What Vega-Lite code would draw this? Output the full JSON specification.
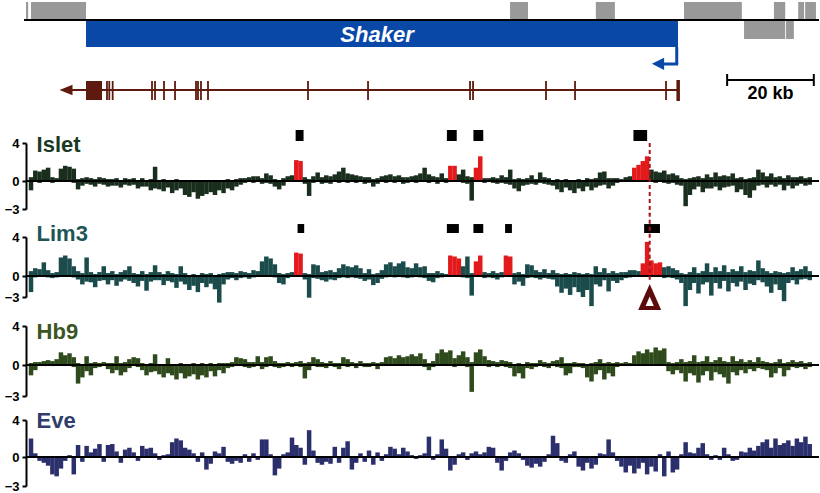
{
"$schema": "https://vega.github.io/schema/vega-lite/v6.json",
"autosize": {"type": "pad"},
"padding": {"left": 0, "top": 0, "right": 2, "bottom": 0},
"spacing": 0,
"bounds": "flush",
"background": "white",
"config": {"view": {"stroke": null}, "font": "Liberation Sans",
 "axisY": {"grid": false, "domainColor": "black", "domainWidth": 2, "tickColor": "black", "tickWidth": 2, "tickSize": 4, "labelPadding": 3, "labelFont": "Liberation Sans", "labelFontSize": 13, "labelFontWeight": "bold", "labelColor": "black"}},
"datasets": {
"islet": [{"x":0,"a":0.4,"b":-1.0},{"x":1,"a":1.1,"b":-0.1},{"x":2,"a":1.0,"b":-0.2},{"x":3,"a":1.2,"b":0},{"x":4,"a":1.4,"b":-0.1},{"x":5,"a":0.4,"b":-0.2},{"x":6,"a":0.3,"b":-0.1},{"x":7,"a":1.3,"b":0},{"x":8,"a":1.6,"b":0},{"x":9,"a":1.5,"b":-0.1},{"x":10,"a":1.3,"b":-0.2},{"x":11,"a":0.2,"b":-0.9},{"x":12,"a":0.3,"b":-0.5},{"x":13,"a":0.4,"b":-0.3},{"x":14,"a":0.3,"b":-0.4},{"x":15,"a":0.2,"b":-0.6},{"x":16,"a":0.4,"b":-0.3},{"x":17,"a":0.3,"b":-0.4},{"x":18,"a":0.2,"b":-0.6},{"x":19,"a":0.2,"b":-0.5},{"x":20,"a":0.3,"b":-0.5},{"x":21,"a":0.1,"b":-0.7},{"x":22,"a":0.3,"b":-0.4},{"x":23,"a":0.2,"b":-0.5},{"x":24,"a":0.3,"b":-0.4},{"x":25,"a":0.1,"b":-0.8},{"x":26,"a":0.3,"b":-0.6},{"x":27,"a":0.1,"b":-0.6},{"x":28,"a":0.2,"b":-1.0},{"x":29,"a":1.5,"b":-0.8},{"x":30,"a":0.1,"b":-0.9},{"x":31,"a":0.2,"b":-1.1},{"x":32,"a":0.1,"b":-0.7},{"x":33,"a":0.1,"b":-1.3},{"x":34,"a":0.2,"b":-1.0},{"x":35,"a":0.1,"b":-0.8},{"x":36,"a":0.0,"b":-1.5},{"x":37,"a":0.1,"b":-1.7},{"x":38,"a":0.1,"b":-1.2},{"x":39,"a":0.0,"b":-1.9},{"x":40,"a":0.1,"b":-1.6},{"x":41,"a":0.0,"b":-1.4},{"x":42,"a":0.1,"b":-1.2},{"x":43,"a":0.0,"b":-1.5},{"x":44,"a":0.1,"b":-1.0},{"x":45,"a":0.1,"b":-1.3},{"x":46,"a":0.2,"b":-0.8},{"x":47,"a":0.1,"b":-1.0},{"x":48,"a":0.2,"b":-0.6},{"x":49,"a":0.3,"b":-0.4},{"x":50,"a":0.3,"b":-0.2},{"x":51,"a":0.4,"b":-0.1},{"x":52,"a":0.5,"b":-0.2},{"x":53,"a":0.5,"b":-0.1},{"x":54,"a":0.3,"b":-0.3},{"x":55,"a":0.8,"b":-0.2},{"x":56,"a":0.6,"b":-0.3},{"x":57,"a":0.2,"b":-0.6},{"x":58,"a":0.1,"b":-0.9},{"x":59,"a":0.3,"b":-0.5},{"x":60,"a":0.5,"b":-0.1},{"x":61,"a":0.6,"b":0},{"x":62,"a":2.2,"b":0,"h":1},{"x":63,"a":2.1,"b":0,"h":1},{"x":64,"a":0.4,"b":-0.3},{"x":65,"a":0.2,"b":-1.6},{"x":66,"a":0.5,"b":-0.2},{"x":67,"a":0.9,"b":-0.1},{"x":68,"a":0.4,"b":-0.3},{"x":69,"a":0.6,"b":-0.2},{"x":70,"a":0.5,"b":-0.3},{"x":71,"a":0.7,"b":-0.1},{"x":72,"a":1.0,"b":-0.2},{"x":73,"a":1.4,"b":-0.1},{"x":74,"a":0.8,"b":-0.2},{"x":75,"a":0.7,"b":-0.1},{"x":76,"a":0.6,"b":-0.2},{"x":77,"a":0.5,"b":-0.1},{"x":78,"a":0.4,"b":-0.3},{"x":79,"a":0.4,"b":-0.2},{"x":80,"a":0.2,"b":-0.6},{"x":81,"a":0.3,"b":-0.3},{"x":82,"a":0.5,"b":-0.1},{"x":83,"a":0.6,"b":-0.2},{"x":84,"a":0.7,"b":-0.1},{"x":85,"a":0.5,"b":-0.2},{"x":86,"a":0.6,"b":-0.1},{"x":87,"a":0.4,"b":-0.3},{"x":88,"a":0.4,"b":-0.2},{"x":89,"a":0.5,"b":-0.1},{"x":90,"a":0.6,"b":-0.2},{"x":91,"a":0.8,"b":-0.1},{"x":92,"a":1.4,"b":-0.1},{"x":93,"a":0.7,"b":-0.2},{"x":94,"a":0.5,"b":-0.1},{"x":95,"a":0.4,"b":-0.3},{"x":96,"a":0.8,"b":-0.1},{"x":97,"a":0.3,"b":-0.2},{"x":98,"a":1.6,"b":0,"h":1},{"x":99,"a":1.6,"b":0,"h":1},{"x":100,"a":0.7,"b":-0.1},{"x":101,"a":1.2,"b":-0.2},{"x":102,"a":0.5,"b":-0.3},{"x":103,"a":0.4,"b":-2.1},{"x":104,"a":1.4,"b":0,"h":1},{"x":105,"a":2.6,"b":0,"h":1},{"x":106,"a":0.3,"b":-0.2},{"x":107,"a":0.3,"b":-0.1},{"x":108,"a":0.4,"b":-0.2},{"x":109,"a":0.3,"b":-0.3},{"x":110,"a":0.6,"b":-0.2},{"x":111,"a":0.4,"b":-0.3},{"x":112,"a":1.2,"b":-0.4},{"x":113,"a":0.2,"b":-0.8},{"x":114,"a":0.3,"b":-1.1},{"x":115,"a":0.2,"b":-0.5},{"x":116,"a":0.3,"b":-0.4},{"x":117,"a":0.6,"b":-0.3},{"x":118,"a":0.2,"b":-0.4},{"x":119,"a":0.9,"b":-0.2},{"x":120,"a":0.4,"b":-0.3},{"x":121,"a":0.3,"b":-0.4},{"x":122,"a":0.1,"b":-0.5},{"x":123,"a":0.2,"b":-0.9},{"x":124,"a":0.1,"b":-1.2},{"x":125,"a":0.2,"b":-0.7},{"x":126,"a":0.1,"b":-1.0},{"x":127,"a":0.1,"b":-1.3},{"x":128,"a":0.2,"b":-0.8},{"x":129,"a":0.1,"b":-1.1},{"x":130,"a":0.3,"b":-0.6},{"x":131,"a":0.2,"b":-1.0},{"x":132,"a":0.3,"b":-0.7},{"x":133,"a":0.9,"b":-0.5},{"x":134,"a":1.0,"b":-0.4},{"x":135,"a":0.3,"b":-0.8},{"x":136,"a":0.3,"b":-0.5},{"x":137,"a":0.3,"b":-0.2},{"x":138,"a":0.2,"b":-0.1},{"x":139,"a":0.4,"b":-0.1},{"x":140,"a":0.5,"b":0},{"x":141,"a":1.4,"b":0,"h":1},{"x":142,"a":1.7,"b":0,"h":1},{"x":143,"a":2.1,"b":0,"h":1},{"x":144,"a":2.6,"b":0,"h":1},{"x":145,"a":1.2,"b":-0.1},{"x":146,"a":1.0,"b":-0.2},{"x":147,"a":0.9,"b":-0.1},{"x":148,"a":1.1,"b":-0.2},{"x":149,"a":0.7,"b":-0.3},{"x":150,"a":0.8,"b":-0.2},{"x":151,"a":0.6,"b":-0.4},{"x":152,"a":0.3,"b":-0.5},{"x":153,"a":0.2,"b":-2.7},{"x":154,"a":0.3,"b":-1.5},{"x":155,"a":0.4,"b":-0.9},{"x":156,"a":0.5,"b":-0.6},{"x":157,"a":0.3,"b":-1.2},{"x":158,"a":0.7,"b":-0.8},{"x":159,"a":0.4,"b":-0.8},{"x":160,"a":0.9,"b":-0.6},{"x":161,"a":0.5,"b":-1.0},{"x":162,"a":0.6,"b":-0.7},{"x":163,"a":0.5,"b":-0.6},{"x":164,"a":0.8,"b":-0.5},{"x":165,"a":0.3,"b":-1.2},{"x":166,"a":0.4,"b":-0.9},{"x":167,"a":0.2,"b":-1.5},{"x":168,"a":0.3,"b":-1.8},{"x":169,"a":0.4,"b":-1.0},{"x":170,"a":1.2,"b":-0.5},{"x":171,"a":0.9,"b":-0.4},{"x":172,"a":0.5,"b":-0.7},{"x":173,"a":0.8,"b":-0.4},{"x":174,"a":0.4,"b":-0.6},{"x":175,"a":0.5,"b":-0.4},{"x":176,"a":0.3,"b":-1.0},{"x":177,"a":0.6,"b":-0.5},{"x":178,"a":0.4,"b":-0.8},{"x":179,"a":0.4,"b":-0.5},{"x":180,"a":0.5,"b":-0.3},{"x":181,"a":0.3,"b":-0.5},{"x":182,"a":0.4,"b":-0.4}],
"lim3": [{"x":0,"a":0.5,"b":-2.3},{"x":1,"a":0.8,"b":-0.2},{"x":2,"a":0.7,"b":-0.1},{"x":3,"a":1.4,"b":-0.1},{"x":4,"a":0.6,"b":-0.2},{"x":5,"a":0.3,"b":-0.3},{"x":6,"a":0.4,"b":-0.2},{"x":7,"a":1.9,"b":0},{"x":8,"a":2.1,"b":0},{"x":9,"a":1.8,"b":-0.1},{"x":10,"a":1.0,"b":-0.2},{"x":11,"a":0.5,"b":-0.5},{"x":12,"a":0.3,"b":-1.2},{"x":13,"a":1.9,"b":-0.8},{"x":14,"a":0.4,"b":-0.9},{"x":15,"a":0.2,"b":-1.6},{"x":16,"a":0.4,"b":-0.7},{"x":17,"a":1.0,"b":-0.6},{"x":18,"a":0.3,"b":-1.2},{"x":19,"a":0.5,"b":-0.6},{"x":20,"a":0.2,"b":-1.4},{"x":21,"a":0.4,"b":-0.8},{"x":22,"a":0.6,"b":-0.5},{"x":23,"a":1.0,"b":-0.7},{"x":24,"a":0.3,"b":-1.0},{"x":25,"a":0.2,"b":-1.5},{"x":26,"a":0.5,"b":-0.7},{"x":27,"a":0.2,"b":-2.1},{"x":28,"a":0.4,"b":-0.8},{"x":29,"a":1.1,"b":-0.6},{"x":30,"a":0.4,"b":-0.6},{"x":31,"a":0.2,"b":-1.3},{"x":32,"a":0.5,"b":-0.7},{"x":33,"a":0.3,"b":-0.9},{"x":34,"a":0.2,"b":-1.7},{"x":35,"a":1.0,"b":-0.8},{"x":36,"a":0.3,"b":-1.2},{"x":37,"a":0.1,"b":-2.0},{"x":38,"a":0.2,"b":-1.4},{"x":39,"a":0.1,"b":-2.3},{"x":40,"a":0.3,"b":-1.0},{"x":41,"a":0.2,"b":-1.6},{"x":42,"a":0.3,"b":-1.1},{"x":43,"a":0.1,"b":-1.9},{"x":44,"a":0.2,"b":-3.8},{"x":45,"a":0.3,"b":-1.2},{"x":46,"a":0.4,"b":-0.5},{"x":47,"a":0.4,"b":-0.3},{"x":48,"a":0.3,"b":-0.6},{"x":49,"a":0.5,"b":-0.3},{"x":50,"a":0.4,"b":-0.2},{"x":51,"a":0.3,"b":-0.4},{"x":52,"a":0.6,"b":-0.2},{"x":53,"a":0.5,"b":-0.1},{"x":54,"a":1.5,"b":0},{"x":55,"a":2.0,"b":0},{"x":56,"a":1.8,"b":-0.1},{"x":57,"a":1.2,"b":-0.2},{"x":58,"a":0.3,"b":-1.0},{"x":59,"a":0.2,"b":-1.2},{"x":60,"a":0.3,"b":-0.3},{"x":61,"a":0.4,"b":-0.1},{"x":62,"a":2.4,"b":0,"h":1},{"x":63,"a":2.3,"b":0,"h":1},{"x":64,"a":0.3,"b":-0.5},{"x":65,"a":0.2,"b":-3.1},{"x":66,"a":1.2,"b":-0.3},{"x":67,"a":1.1,"b":-0.4},{"x":68,"a":0.4,"b":-0.6},{"x":69,"a":0.5,"b":-0.8},{"x":70,"a":0.6,"b":-0.5},{"x":71,"a":0.4,"b":-0.6},{"x":72,"a":0.8,"b":-0.3},{"x":73,"a":1.2,"b":-0.2},{"x":74,"a":1.0,"b":-0.3},{"x":75,"a":0.9,"b":-0.2},{"x":76,"a":1.1,"b":-0.3},{"x":77,"a":0.8,"b":-0.4},{"x":78,"a":0.3,"b":-0.7},{"x":79,"a":0.7,"b":-0.5},{"x":80,"a":0.2,"b":-1.3},{"x":81,"a":0.3,"b":-1.0},{"x":82,"a":0.6,"b":-0.4},{"x":83,"a":1.2,"b":-0.2},{"x":84,"a":1.4,"b":-0.1},{"x":85,"a":1.0,"b":-0.2},{"x":86,"a":1.3,"b":-0.1},{"x":87,"a":1.5,"b":-0.2},{"x":88,"a":0.9,"b":-0.3},{"x":89,"a":0.8,"b":-0.2},{"x":90,"a":1.3,"b":-0.1},{"x":91,"a":0.9,"b":-0.2},{"x":92,"a":1.0,"b":-0.3},{"x":93,"a":0.3,"b":-0.7},{"x":94,"a":0.3,"b":-0.9},{"x":95,"a":0.5,"b":-0.3},{"x":96,"a":0.3,"b":-0.2},{"x":97,"a":0.2,"b":-0.1},{"x":98,"a":2.1,"b":0,"h":1},{"x":99,"a":2.0,"b":0,"h":1},{"x":100,"a":1.8,"b":0,"h":1},{"x":101,"a":1.0,"b":-0.2},{"x":102,"a":2.0,"b":-0.3},{"x":103,"a":0.3,"b":-2.8},{"x":104,"a":1.5,"b":0,"h":1},{"x":105,"a":2.1,"b":0,"h":1},{"x":106,"a":0.4,"b":-0.3},{"x":107,"a":0.3,"b":-0.2},{"x":108,"a":0.5,"b":-0.3},{"x":109,"a":0.3,"b":-0.5},{"x":110,"a":0.4,"b":-0.2},{"x":111,"a":2.1,"b":0,"h":1},{"x":112,"a":2.0,"b":0,"h":1},{"x":113,"a":0.3,"b":-1.2},{"x":114,"a":0.4,"b":-0.8},{"x":115,"a":0.2,"b":-1.4},{"x":116,"a":1.2,"b":-0.3},{"x":117,"a":1.1,"b":-0.2},{"x":118,"a":0.6,"b":-0.3},{"x":119,"a":0.4,"b":-0.5},{"x":120,"a":0.7,"b":-0.3},{"x":121,"a":0.3,"b":-0.4},{"x":122,"a":0.6,"b":-0.5},{"x":123,"a":0.3,"b":-1.5},{"x":124,"a":0.2,"b":-2.4},{"x":125,"a":0.3,"b":-1.8},{"x":126,"a":0.2,"b":-2.7},{"x":127,"a":0.4,"b":-1.6},{"x":128,"a":0.3,"b":-2.3},{"x":129,"a":0.2,"b":-3.0},{"x":130,"a":0.3,"b":-2.0},{"x":131,"a":0.2,"b":-4.3},{"x":132,"a":1.0,"b":-1.2},{"x":133,"a":0.4,"b":-1.5},{"x":134,"a":0.8,"b":-0.6},{"x":135,"a":0.3,"b":-2.2},{"x":136,"a":0.5,"b":-0.7},{"x":137,"a":0.3,"b":-1.0},{"x":138,"a":0.4,"b":-0.6},{"x":139,"a":0.4,"b":-0.3},{"x":140,"a":0.6,"b":-0.2},{"x":141,"a":0.6,"b":-0.1},{"x":142,"a":0.5,"b":-0.1},{"x":143,"a":1.3,"b":0,"h":1},{"x":144,"a":3.5,"b":0,"h":1},{"x":145,"a":1.6,"b":0,"h":1},{"x":146,"a":1.3,"b":0,"h":1},{"x":147,"a":1.4,"b":0,"h":1},{"x":148,"a":0.9,"b":-0.3},{"x":149,"a":1.0,"b":-0.2},{"x":150,"a":0.8,"b":-0.3},{"x":151,"a":0.6,"b":-0.5},{"x":152,"a":0.3,"b":-1.0},{"x":153,"a":0.2,"b":-4.3},{"x":154,"a":0.4,"b":-2.0},{"x":155,"a":0.9,"b":-1.0},{"x":156,"a":0.3,"b":-2.5},{"x":157,"a":0.5,"b":-1.2},{"x":158,"a":1.3,"b":-0.9},{"x":159,"a":0.4,"b":-2.8},{"x":160,"a":0.9,"b":-1.0},{"x":161,"a":0.5,"b":-1.8},{"x":162,"a":1.1,"b":-0.7},{"x":163,"a":0.4,"b":-2.2},{"x":164,"a":0.7,"b":-1.0},{"x":165,"a":0.5,"b":-1.5},{"x":166,"a":1.0,"b":-0.8},{"x":167,"a":0.4,"b":-2.0},{"x":168,"a":0.6,"b":-1.1},{"x":169,"a":0.5,"b":-1.3},{"x":170,"a":1.6,"b":-0.6},{"x":171,"a":0.8,"b":-0.9},{"x":172,"a":0.5,"b":-1.5},{"x":173,"a":0.3,"b":-2.4},{"x":174,"a":0.5,"b":-1.2},{"x":175,"a":0.4,"b":-2.0},{"x":176,"a":0.3,"b":-3.6},{"x":177,"a":0.4,"b":-1.0},{"x":178,"a":0.9,"b":-0.6},{"x":179,"a":0.5,"b":-1.2},{"x":180,"a":0.7,"b":-0.5},{"x":181,"a":1.0,"b":-0.4},{"x":182,"a":0.5,"b":-0.6}],
"hb9": [{"x":0,"a":0.2,"b":-1.0},{"x":1,"a":0.3,"b":-0.5},{"x":2,"a":0.3,"b":-0.1},{"x":3,"a":0.4,"b":-0.1},{"x":4,"a":0.5,"b":0},{"x":5,"a":0.4,"b":-0.1},{"x":6,"a":0.6,"b":0},{"x":7,"a":1.3,"b":0},{"x":8,"a":1.0,"b":-0.1},{"x":9,"a":1.2,"b":0},{"x":10,"a":0.8,"b":-0.2},{"x":11,"a":0.2,"b":-1.8},{"x":12,"a":0.1,"b":-1.2},{"x":13,"a":0.9,"b":-0.6},{"x":14,"a":0.2,"b":-1.0},{"x":15,"a":0.3,"b":-0.3},{"x":16,"a":0.2,"b":-0.2},{"x":17,"a":0.3,"b":-0.1},{"x":18,"a":0.2,"b":-0.4},{"x":19,"a":0.2,"b":-0.8},{"x":20,"a":0.9,"b":-0.5},{"x":21,"a":0.2,"b":-1.0},{"x":22,"a":0.3,"b":-0.7},{"x":23,"a":0.6,"b":-0.3},{"x":24,"a":0.8,"b":-0.1},{"x":25,"a":0.7,"b":-0.2},{"x":26,"a":0.2,"b":-0.5},{"x":27,"a":0.1,"b":-1.0},{"x":28,"a":0.2,"b":-0.7},{"x":29,"a":1.1,"b":-0.6},{"x":30,"a":0.1,"b":-0.9},{"x":31,"a":0.1,"b":-1.2},{"x":32,"a":0.7,"b":-0.8},{"x":33,"a":0.1,"b":-1.0},{"x":34,"a":0.1,"b":-1.4},{"x":35,"a":0.2,"b":-0.8},{"x":36,"a":0.1,"b":-1.3},{"x":37,"a":0.1,"b":-1.1},{"x":38,"a":0.2,"b":-0.9},{"x":39,"a":0.1,"b":-1.4},{"x":40,"a":0.2,"b":-1.0},{"x":41,"a":0.1,"b":-1.2},{"x":42,"a":0.2,"b":-0.6},{"x":43,"a":0.1,"b":-1.1},{"x":44,"a":0.2,"b":-0.5},{"x":45,"a":0.2,"b":-0.8},{"x":46,"a":0.2,"b":-0.3},{"x":47,"a":0.3,"b":-0.2},{"x":48,"a":0.8,"b":-0.1},{"x":49,"a":0.7,"b":-0.1},{"x":50,"a":0.6,"b":-0.2},{"x":51,"a":0.3,"b":-0.3},{"x":52,"a":0.3,"b":-0.2},{"x":53,"a":0.9,"b":-0.1},{"x":54,"a":0.3,"b":-0.4},{"x":55,"a":0.8,"b":-0.2},{"x":56,"a":0.9,"b":-0.1},{"x":57,"a":0.4,"b":-0.2},{"x":58,"a":0.2,"b":-0.3},{"x":59,"a":0.2,"b":-0.2},{"x":60,"a":0.3,"b":-0.1},{"x":61,"a":0.2,"b":-0.2},{"x":62,"a":0.3,"b":-0.1},{"x":63,"a":0.4,"b":-0.2},{"x":64,"a":0.2,"b":-1.3},{"x":65,"a":0.3,"b":-0.5},{"x":66,"a":0.8,"b":-0.1},{"x":67,"a":0.6,"b":-0.2},{"x":68,"a":0.3,"b":-0.2},{"x":69,"a":0.2,"b":-0.3},{"x":70,"a":0.4,"b":-0.1},{"x":71,"a":0.2,"b":-0.2},{"x":72,"a":0.2,"b":-0.4},{"x":73,"a":0.8,"b":-0.1},{"x":74,"a":0.6,"b":-0.2},{"x":75,"a":0.3,"b":-0.1},{"x":76,"a":0.2,"b":-0.3},{"x":77,"a":0.4,"b":-0.1},{"x":78,"a":0.2,"b":-0.2},{"x":79,"a":0.2,"b":-0.2},{"x":80,"a":0.3,"b":-0.1},{"x":81,"a":0.2,"b":-0.4},{"x":82,"a":0.3,"b":-0.1},{"x":83,"a":0.8,"b":-0.1},{"x":84,"a":0.9,"b":0},{"x":85,"a":0.7,"b":-0.1},{"x":86,"a":1.0,"b":0},{"x":87,"a":0.8,"b":-0.1},{"x":88,"a":0.9,"b":0},{"x":89,"a":1.1,"b":-0.1},{"x":90,"a":0.9,"b":-0.1},{"x":91,"a":1.2,"b":0},{"x":92,"a":0.6,"b":-0.2},{"x":93,"a":0.2,"b":-0.5},{"x":94,"a":0.4,"b":-0.2},{"x":95,"a":1.2,"b":-0.1},{"x":96,"a":1.6,"b":0},{"x":97,"a":1.3,"b":-0.1},{"x":98,"a":1.5,"b":0},{"x":99,"a":0.7,"b":-0.2},{"x":100,"a":1.0,"b":-0.1},{"x":101,"a":1.4,"b":0},{"x":102,"a":0.8,"b":-0.2},{"x":103,"a":0.3,"b":-2.6},{"x":104,"a":1.3,"b":-0.1},{"x":105,"a":1.6,"b":0},{"x":106,"a":0.9,"b":-0.1},{"x":107,"a":0.5,"b":-0.2},{"x":108,"a":0.4,"b":-0.1},{"x":109,"a":0.3,"b":-0.2},{"x":110,"a":0.5,"b":-0.1},{"x":111,"a":0.4,"b":-0.2},{"x":112,"a":0.3,"b":-0.3},{"x":113,"a":0.1,"b":-1.1},{"x":114,"a":0.2,"b":-0.8},{"x":115,"a":0.1,"b":-1.3},{"x":116,"a":0.3,"b":-0.3},{"x":117,"a":0.2,"b":-0.4},{"x":118,"a":0.2,"b":-0.2},{"x":119,"a":0.5,"b":-0.1},{"x":120,"a":0.3,"b":-0.2},{"x":121,"a":0.2,"b":-0.3},{"x":122,"a":0.4,"b":-0.1},{"x":123,"a":0.5,"b":-0.2},{"x":124,"a":0.8,"b":-0.3},{"x":125,"a":0.2,"b":-1.0},{"x":126,"a":0.2,"b":-0.8},{"x":127,"a":0.3,"b":-0.2},{"x":128,"a":0.2,"b":-0.2},{"x":129,"a":0.2,"b":-0.3},{"x":130,"a":0.1,"b":-1.2},{"x":131,"a":0.2,"b":-1.6},{"x":132,"a":0.3,"b":-0.9},{"x":133,"a":0.6,"b":-0.5},{"x":134,"a":0.2,"b":-1.4},{"x":135,"a":0.3,"b":-0.8},{"x":136,"a":0.2,"b":-1.1},{"x":137,"a":0.3,"b":-0.2},{"x":138,"a":0.2,"b":-0.1},{"x":139,"a":0.3,"b":-0.1},{"x":140,"a":0.2,"b":-0.1},{"x":141,"a":1.0,"b":0},{"x":142,"a":1.4,"b":0},{"x":143,"a":1.2,"b":-0.1},{"x":144,"a":1.6,"b":0},{"x":145,"a":1.3,"b":0},{"x":146,"a":1.8,"b":0},{"x":147,"a":1.5,"b":-0.1},{"x":148,"a":1.7,"b":0},{"x":149,"a":0.3,"b":-0.6},{"x":150,"a":0.2,"b":-0.9},{"x":151,"a":0.3,"b":-0.5},{"x":152,"a":0.6,"b":-0.8},{"x":153,"a":0.3,"b":-1.6},{"x":154,"a":0.4,"b":-0.8},{"x":155,"a":1.0,"b":-1.0},{"x":156,"a":0.3,"b":-1.7},{"x":157,"a":0.4,"b":-1.0},{"x":158,"a":0.9,"b":-0.6},{"x":159,"a":0.3,"b":-1.5},{"x":160,"a":0.5,"b":-0.7},{"x":161,"a":0.8,"b":-0.9},{"x":162,"a":0.4,"b":-1.2},{"x":163,"a":0.3,"b":-1.8},{"x":164,"a":0.9,"b":-0.7},{"x":165,"a":0.4,"b":-1.0},{"x":166,"a":0.6,"b":-0.5},{"x":167,"a":0.3,"b":-0.8},{"x":168,"a":0.5,"b":-0.4},{"x":169,"a":0.3,"b":-0.6},{"x":170,"a":0.8,"b":-0.3},{"x":171,"a":0.4,"b":-0.4},{"x":172,"a":0.3,"b":-0.5},{"x":173,"a":0.2,"b":-1.2},{"x":174,"a":0.3,"b":-0.8},{"x":175,"a":0.6,"b":-0.3},{"x":176,"a":0.2,"b":-1.1},{"x":177,"a":0.3,"b":-0.5},{"x":178,"a":0.5,"b":-0.2},{"x":179,"a":0.3,"b":-0.3},{"x":180,"a":0.4,"b":-0.2},{"x":181,"a":0.2,"b":-0.4},{"x":182,"a":0.3,"b":-0.2}],
"eve": [{"x":0,"v":2.0},{"x":1,"v":0.4},{"x":2,"v":-0.4},{"x":3,"v":-0.6},{"x":4,"v":-0.9},{"x":5,"v":-1.8},{"x":6,"v":-2.0},{"x":7,"v":-1.2},{"x":8,"v":-0.4},{"x":9,"v":0.2},{"x":10,"v":-1.8},{"x":11,"v":1.3},{"x":12,"v":-0.5},{"x":13,"v":1.2},{"x":14,"v":0.5},{"x":15,"v":0.9},{"x":16,"v":1.4},{"x":17,"v":-0.5},{"x":18,"v":1.3},{"x":19,"v":1.4},{"x":20,"v":0.6},{"x":21,"v":-0.6},{"x":22,"v":0.8},{"x":23,"v":1.0},{"x":24,"v":0.5},{"x":25,"v":-0.4},{"x":26,"v":1.2},{"x":27,"v":0.9},{"x":28,"v":1.0},{"x":29,"v":0.4},{"x":30,"v":-0.3},{"x":31,"v":0.2},{"x":32,"v":0.3},{"x":33,"v":1.6},{"x":34,"v":2.0},{"x":35,"v":1.8},{"x":36,"v":1.0},{"x":37,"v":0.8},{"x":38,"v":0.4},{"x":39,"v":-0.5},{"x":40,"v":0.5},{"x":41,"v":-1.3},{"x":42,"v":-0.7},{"x":43,"v":0.6},{"x":44,"v":0.4},{"x":45,"v":1.1},{"x":46,"v":-0.5},{"x":47,"v":-0.7},{"x":48,"v":-0.4},{"x":49,"v":-0.6},{"x":50,"v":0.3},{"x":51,"v":-0.5},{"x":52,"v":0.4},{"x":53,"v":-0.3},{"x":54,"v":1.9},{"x":55,"v":1.9},{"x":56,"v":0.3},{"x":57,"v":-1.9},{"x":58,"v":-1.2},{"x":59,"v":0.3},{"x":60,"v":0.5},{"x":61,"v":2.1},{"x":62,"v":1.3},{"x":63,"v":1.0},{"x":64,"v":-0.8},{"x":65,"v":2.9},{"x":66,"v":0.7},{"x":67,"v":-0.6},{"x":68,"v":-0.8},{"x":69,"v":-0.5},{"x":70,"v":-0.7},{"x":71,"v":1.1},{"x":72,"v":-0.6},{"x":73,"v":1.0},{"x":74,"v":1.7},{"x":75,"v":-1.3},{"x":76,"v":-0.6},{"x":77,"v":0.4},{"x":78,"v":-0.5},{"x":79,"v":0.7},{"x":80,"v":-0.8},{"x":81,"v":0.5},{"x":82,"v":-0.4},{"x":83,"v":0.3},{"x":84,"v":1.1},{"x":85,"v":0.9},{"x":86,"v":0.3},{"x":87,"v":1.0},{"x":88,"v":0.6},{"x":89,"v":0.2},{"x":90,"v":-0.2},{"x":91,"v":0.2},{"x":92,"v":0.4},{"x":93,"v":2.2},{"x":94,"v":-0.3},{"x":95,"v":0.3},{"x":96,"v":1.9},{"x":97,"v":0.9},{"x":98,"v":-1.4},{"x":99,"v":-0.8},{"x":100,"v":0.3},{"x":101,"v":0.5},{"x":102,"v":-0.3},{"x":103,"v":0.4},{"x":104,"v":0.6},{"x":105,"v":0.3},{"x":106,"v":0.5},{"x":107,"v":1.1},{"x":108,"v":1.0},{"x":109,"v":-0.6},{"x":110,"v":-1.4},{"x":111,"v":-0.4},{"x":112,"v":0.5},{"x":113,"v":0.7},{"x":114,"v":0.4},{"x":115,"v":-0.3},{"x":116,"v":-0.9},{"x":117,"v":-1.1},{"x":118,"v":-0.7},{"x":119,"v":-1.0},{"x":120,"v":-0.5},{"x":121,"v":0.3},{"x":122,"v":2.3},{"x":123,"v":1.5},{"x":124,"v":-0.4},{"x":125,"v":-0.6},{"x":126,"v":0.3},{"x":127,"v":0.6},{"x":128,"v":-1.0},{"x":129,"v":-1.4},{"x":130,"v":-0.6},{"x":131,"v":-1.2},{"x":132,"v":-0.8},{"x":133,"v":0.4},{"x":134,"v":0.3},{"x":135,"v":1.9},{"x":136,"v":0.5},{"x":137,"v":-0.4},{"x":138,"v":-1.0},{"x":139,"v":-1.6},{"x":140,"v":-0.9},{"x":141,"v":-1.7},{"x":142,"v":-1.2},{"x":143,"v":-0.6},{"x":144,"v":-1.8},{"x":145,"v":-1.0},{"x":146,"v":-1.5},{"x":147,"v":0.3},{"x":148,"v":-2.0},{"x":149,"v":0.6},{"x":150,"v":-1.6},{"x":151,"v":-1.3},{"x":152,"v":0.3},{"x":153,"v":1.6},{"x":154,"v":0.5},{"x":155,"v":0.4},{"x":156,"v":1.0},{"x":157,"v":1.5},{"x":158,"v":0.3},{"x":159,"v":-0.3},{"x":160,"v":0.2},{"x":161,"v":-0.3},{"x":162,"v":1.0},{"x":163,"v":0.3},{"x":164,"v":-0.4},{"x":165,"v":-0.3},{"x":166,"v":0.6},{"x":167,"v":0.5},{"x":168,"v":1.0},{"x":169,"v":0.7},{"x":170,"v":1.2},{"x":171,"v":1.6},{"x":172,"v":1.9},{"x":173,"v":1.0},{"x":174,"v":2.0},{"x":175,"v":1.3},{"x":176,"v":1.5},{"x":177,"v":1.8},{"x":178,"v":1.2},{"x":179,"v":2.0},{"x":180,"v":1.6},{"x":181,"v":2.2},{"x":182,"v":1.4}]
},
"vconcat": [
{
 "width": 793, "height": 118,
 "layer": [
  {"data": {"values": [{"x": -5.77, "x2": -5.6, "y": 0, "y2": 0.2}]},
   "mark": {"type": "rect", "opacity": 0},
   "encoding": {"x": {"field": "x", "type": "quantitative", "scale": {"domain": [0, 183], "nice": false, "zero": false}, "axis": null},
                "x2": {"field": "x2"},
                "y": {"field": "y", "type": "quantitative", "scale": {"domain": [0, 11.8], "reverse": true, "nice": false, "zero": false}, "axis": null},
                "y2": {"field": "y2"}}},
  {"data": {"values": [
     {"x": 0, "x2": 0.5, "y": 0.2, "y2": 1.9},
     {"x": 1.15, "x2": 13.85, "y": 0.2, "y2": 1.9},
     {"x": 111.7, "x2": 115.85, "y": 0.2, "y2": 1.9},
     {"x": 131.5, "x2": 135.9, "y": 0.2, "y2": 1.9},
     {"x": 151.85, "x2": 165.2, "y": 0.2, "y2": 1.9},
     {"x": 172.6, "x2": 175.2, "y": 0.2, "y2": 1.9},
     {"x": 178.2, "x2": 179.55, "y": 0.2, "y2": 1.9},
     {"x": 179.8, "x2": 182.3, "y": 0.2, "y2": 1.9},
     {"x": 165.7, "x2": 175.2, "y": 2.1, "y2": 3.9},
     {"x": 175.4, "x2": 177.2, "y": 2.1, "y2": 3.9}]},
   "mark": {"type": "rect", "color": "#999999"},
   "encoding": {"x": {"field": "x", "type": "quantitative"}, "x2": {"field": "x2"}, "y": {"field": "y", "type": "quantitative"}, "y2": {"field": "y2"}}},
  {"data": {"values": [{"x": -0.46, "x2": 183, "y": 2.0}]},
   "mark": {"type": "rule", "color": "black", "strokeWidth": 2},
   "encoding": {"x": {"field": "x", "type": "quantitative"}, "x2": {"field": "x2"}, "y": {"field": "y", "type": "quantitative"}}},
  {"data": {"values": [{"x": 13.85, "x2": 150.46, "y": 2.1, "y2": 4.7}]},
   "mark": {"type": "rect", "color": "#0a48a8"},
   "encoding": {"x": {"field": "x", "type": "quantitative"}, "x2": {"field": "x2"}, "y": {"field": "y", "type": "quantitative"}, "y2": {"field": "y2"}}},
  {"data": {"values": [{"x": 81.0, "y": 3.53, "t": "Shaker"}]},
   "mark": {"type": "text", "color": "white", "fontSize": 22, "fontWeight": "bold", "fontStyle": "italic", "align": "center", "baseline": "middle"},
   "encoding": {"x": {"field": "x", "type": "quantitative"}, "y": {"field": "y", "type": "quantitative"}, "text": {"field": "t"}}},
  {"data": {"values": [{"x": 150.17, "x2": 150.17, "y": 4.7, "y2": 6.4}, {"x": 146.5, "x2": 150.5, "y": 6.4, "y2": 6.4}]},
   "mark": {"type": "rule", "color": "#0a48a8", "strokeWidth": 3},
   "encoding": {"x": {"field": "x", "type": "quantitative"}, "x2": {"field": "x2"}, "y": {"field": "y", "type": "quantitative"}, "y2": {"field": "y2"}}},
  {"data": {"values": [{"x": 145.85, "y": 6.38}]},
   "mark": {"type": "point", "shape": "M-1,0L1,-1L1,1Z", "size": 150, "filled": true, "color": "#0a48a8", "opacity": 1},
   "encoding": {"x": {"field": "x", "type": "quantitative"}, "y": {"field": "y", "type": "quantitative"}}},
  {"data": {"values": [{"x": 9.46, "x2": 150.46, "y": 9.0}]},
   "mark": {"type": "rule", "color": "#5e1a0e", "strokeWidth": 2},
   "encoding": {"x": {"field": "x", "type": "quantitative"}, "x2": {"field": "x2"}, "y": {"field": "y", "type": "quantitative"}}},
  {"data": {"values": [{"x": 9.23, "y": 9.0}]},
   "mark": {"type": "point", "shape": "M-1,0L1,-0.8L1,0.8Z", "size": 169, "filled": true, "color": "#5e1a0e", "opacity": 1},
   "encoding": {"x": {"field": "x", "type": "quantitative"}, "y": {"field": "y", "type": "quantitative"}}},
  {"data": {"values": [{"x": 13.85, "x2": 17.54, "y": 8.1, "y2": 10.0}]},
   "mark": {"type": "rect", "color": "#5e1a0e"},
   "encoding": {"x": {"field": "x", "type": "quantitative"}, "x2": {"field": "x2"}, "y": {"field": "y", "type": "quantitative"}, "y2": {"field": "y2"}}},
  {"data": {"values": [{"x": 18.69}, {"x": 19.22}, {"x": 20.0}, {"x": 29.08}, {"x": 29.77}, {"x": 31.85}, {"x": 34.39}, {"x": 39.23}, {"x": 39.69}, {"x": 40.38}, {"x": 42.0}, {"x": 65.08}, {"x": 78.93}, {"x": 102.47}, {"x": 103.16}, {"x": 120.0}, {"x": 126.7}, {"x": 147.7}]},
   "mark": {"type": "rule", "color": "#5e1a0e", "strokeWidth": 1.8},
   "encoding": {"x": {"field": "x", "type": "quantitative"}, "y": {"datum": 8.1}, "y2": {"datum": 10.0}}},
  {"data": {"values": [{"x": 150.5}]},
   "mark": {"type": "rule", "color": "#5e1a0e", "strokeWidth": 3.5},
   "encoding": {"x": {"field": "x", "type": "quantitative"}, "y": {"datum": 8.0}, "y2": {"datum": 10.1}}},
  {"data": {"values": [{"x": 161.8, "x2": 181.8, "y": 8.0, "y2": 8.0}, {"x": 161.8, "x2": 161.8, "y": 7.4, "y2": 8.6}, {"x": 181.8, "x2": 181.8, "y": 7.4, "y2": 8.6}]},
   "mark": {"type": "rule", "color": "black", "strokeWidth": 2},
   "encoding": {"x": {"field": "x", "type": "quantitative"}, "x2": {"field": "x2"}, "y": {"field": "y", "type": "quantitative"}, "y2": {"field": "y2"}}},
  {"data": {"values": [{"x": 171.8, "y": 9.43, "t": "20 kb"}]},
   "mark": {"type": "text", "color": "black", "fontSize": 18, "fontWeight": "bold", "align": "center", "baseline": "middle"},
   "encoding": {"x": {"field": "x", "type": "quantitative"}, "y": {"field": "y", "type": "quantitative"}, "text": {"field": "t"}}}
 ]
},
{
 "width": 793, "height": 96,
 "layer": [
  {"data": {"name": "islet"}, "mark": {"type": "bar", "width": 4.5},
   "encoding": {"x": {"field": "x", "type": "quantitative", "scale": {"domain": [0, 183], "nice": false, "zero": false}, "axis": null},
                "y": {"field": "a", "type": "quantitative", "scale": {"domain": [-3, 0, 4], "range": [91, 63, 25], "nice": false, "zero": false}, "axis": {"values": [-3, 0, 4], "title": null}},
                "y2": {"field": "b"},
                "color": {"condition": {"test": "datum.h == 1", "value": "#e31a1c"}, "value": "#1a2e1e"}}},
  {"data": {"values": [{}]}, "mark": {"type": "rule", "color": "black", "strokeWidth": 2}, "encoding": {"y": {"datum": 0, "axis": {"values": [-3, 0, 4], "title": null}}}},
  {"data": {"values": [{"x": 61.85, "x2": 63.7}, {"x": 97.2, "x2": 99.5}, {"x": 103.4, "x2": 105.7}, {"x": 140.8, "x2": 144.0}]},
   "mark": {"type": "rect", "color": "black"},
   "encoding": {"x": {"field": "x", "type": "quantitative"}, "x2": {"field": "x2"}, "y": {"datum": 4.21, "axis": {"values": [-3, 0, 4], "title": null}}, "y2": {"datum": 5.37}}},
  {"data": {"values": [{"x": 1.3, "y": 3.82, "t": "Islet"}]},
   "mark": {"type": "text", "align": "left", "baseline": "middle", "fontSize": 22, "fontWeight": "bold", "color": "#1b3a23"},
   "encoding": {"x": {"field": "x", "type": "quantitative"}, "y": {"field": "y", "type": "quantitative", "axis": {"values": [-3, 0, 4], "title": null}}, "text": {"field": "t"}}},
  {"data": {"values": [{"x": 144.6, "y": 4.0, "y2": -3.6}]},
   "mark": {"type": "rule", "color": "#a8161b", "strokeWidth": 2, "strokeDash": [4, 3]},
   "encoding": {"x": {"field": "x", "type": "quantitative"}, "y": {"field": "y", "type": "quantitative", "axis": {"values": [-3, 0, 4], "title": null}}, "y2": {"field": "y2"}}}
 ]
},
{
 "width": 793, "height": 96,
 "layer": [
  {"data": {"name": "lim3"}, "mark": {"type": "bar", "width": 4.5},
   "encoding": {"x": {"field": "x", "type": "quantitative", "scale": {"domain": [0, 183], "nice": false, "zero": false}, "axis": null},
                "y": {"field": "a", "type": "quantitative", "scale": {"domain": [-3, 0, 4], "range": [83, 62, 23], "nice": false, "zero": false}, "axis": {"values": [-3, 0, 4], "title": null}},
                "y2": {"field": "b"},
                "color": {"condition": {"test": "datum.h == 1", "value": "#e31a1c"}, "value": "#1b4b4b"}}},
  {"data": {"values": [{}]}, "mark": {"type": "rule", "color": "black", "strokeWidth": 2}, "encoding": {"y": {"datum": 0, "axis": {"values": [-3, 0, 4], "title": null}}}},
  {"data": {"values": [{"x": 62.3, "x2": 63.85}, {"x": 97.2, "x2": 100.0}, {"x": 103.4, "x2": 105.7}, {"x": 110.8, "x2": 112.4}, {"x": 143.3, "x2": 147.0}]},
   "mark": {"type": "rect", "color": "black"},
   "encoding": {"x": {"field": "x", "type": "quantitative"}, "x2": {"field": "x2"}, "y": {"datum": 4.41, "axis": {"values": [-3, 0, 4], "title": null}}, "y2": {"datum": 5.33}}},
  {"data": {"values": [{"x": 1.3, "y": 4.31, "t": "Lim3"}]},
   "mark": {"type": "text", "align": "left", "baseline": "middle", "fontSize": 22, "fontWeight": "bold", "color": "#1e5656"},
   "encoding": {"x": {"field": "x", "type": "quantitative"}, "y": {"field": "y", "type": "quantitative", "axis": {"values": [-3, 0, 4], "title": null}}, "text": {"field": "t"}}},
  {"data": {"values": [{"x": 144.6, "y": 6.5, "y2": -0.86}]},
   "mark": {"type": "rule", "color": "#a8161b", "strokeWidth": 2, "strokeDash": [4, 3]},
   "encoding": {"x": {"field": "x", "type": "quantitative"}, "y": {"field": "y", "type": "quantitative", "axis": {"values": [-3, 0, 4], "title": null}}, "y2": {"field": "y2"}}},
  {"data": {"values": [{"x": 144.6, "y": -3.0}]},
   "mark": {"type": "point", "shape": "M0,-1L0.885,1L-0.885,1Z", "size": 676, "filled": true, "color": "#5b0d0d", "opacity": 1},
   "encoding": {"x": {"field": "x", "type": "quantitative"}, "y": {"field": "y", "type": "quantitative", "axis": {"values": [-3, 0, 4], "title": null}}}},
  {"data": {"values": [{"x": 144.6, "y": -3.61}]},
   "mark": {"type": "point", "shape": "M0,-1L0.86,1L-0.86,1Z", "size": 90, "filled": true, "color": "white", "opacity": 1},
   "encoding": {"x": {"field": "x", "type": "quantitative"}, "y": {"field": "y", "type": "quantitative", "axis": {"values": [-3, 0, 4], "title": null}}}}
 ]
},
{
 "width": 793, "height": 92,
 "layer": [
  {"data": {"name": "hb9"}, "mark": {"type": "bar", "width": 4.5},
   "encoding": {"x": {"field": "x", "type": "quantitative", "scale": {"domain": [0, 183], "nice": false, "zero": false}, "axis": null},
                "y": {"field": "a", "type": "quantitative", "scale": {"domain": [-3, 0, 4], "range": [86, 55, 16], "nice": false, "zero": false}, "axis": {"values": [-3, 0, 4], "title": null}},
                "y2": {"field": "b"},
                "color": {"value": "#2f4a1c"}}},
  {"data": {"values": [{}]}, "mark": {"type": "rule", "color": "black", "strokeWidth": 2}, "encoding": {"y": {"datum": 0, "axis": {"values": [-3, 0, 4], "title": null}}}},
  {"data": {"values": [{"x": 1.3, "y": 3.42, "t": "Hb9"}]},
   "mark": {"type": "text", "align": "left", "baseline": "middle", "fontSize": 22, "fontWeight": "bold", "color": "#3b5623"},
   "encoding": {"x": {"field": "x", "type": "quantitative"}, "y": {"field": "y", "type": "quantitative", "axis": {"values": [-3, 0, 4], "title": null}}, "text": {"field": "t"}}}
 ]
},
{
 "width": 793, "height": 91,
 "layer": [
  {"data": {"name": "eve"}, "mark": {"type": "bar", "width": 4.5},
   "encoding": {"x": {"field": "x", "type": "quantitative", "scale": {"domain": [0, 183], "nice": false, "zero": false}, "axis": null},
                "y": {"field": "v", "type": "quantitative", "scale": {"domain": [-3, 0, 4], "range": [84, 55, 18], "nice": false, "zero": false}, "axis": {"values": [-3, 0, 4], "title": null}},
                "y2": {"datum": 0},
                "color": {"value": "#2b2f6b"}}},
  {"data": {"values": [{}]}, "mark": {"type": "rule", "color": "black", "strokeWidth": 2}, "encoding": {"y": {"datum": 0, "axis": {"values": [-3, 0, 4], "title": null}}}},
  {"data": {"values": [{"x": 1.3, "y": 3.87, "t": "Eve"}]},
   "mark": {"type": "text", "align": "left", "baseline": "middle", "fontSize": 22, "fontWeight": "bold", "color": "#2f3d6a"},
   "encoding": {"x": {"field": "x", "type": "quantitative"}, "y": {"field": "y", "type": "quantitative", "axis": {"values": [-3, 0, 4], "title": null}}, "text": {"field": "t"}}}
 ]
}
]
}
